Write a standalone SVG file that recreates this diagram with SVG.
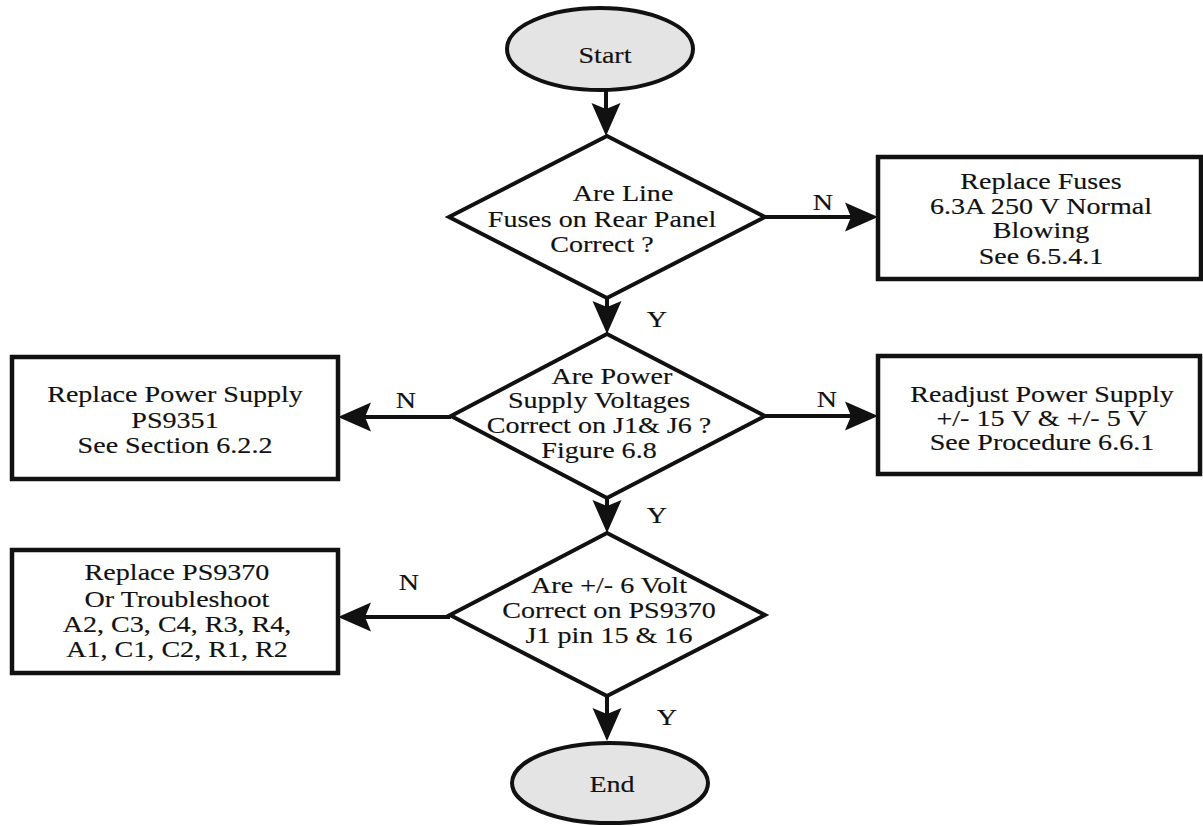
<svg xmlns="http://www.w3.org/2000/svg" width="1203" height="826" viewBox="0 0 1203 826">
  <style>
    .shape { fill: #ffffff; stroke: #111111; stroke-width: 4; }
    .term { fill: #e4e4e4; stroke: #111111; stroke-width: 4; }
    .box { fill: #ffffff; stroke: #111111; stroke-width: 4.5; }
    .wire { fill: none; stroke: #111111; stroke-width: 4; marker-end: url(#head); }
    text { font-family: "Liberation Serif", "Times New Roman", serif; font-size: 24px; fill: #111111; stroke: #111111; stroke-width: 0.15; text-anchor: middle; }
  </style>
  <defs>
    <!-- notched arrowhead; line stops 27px short of the tip -->
    <marker id="head" viewBox="-34 -16 35 32" refX="-27" refY="0" markerWidth="35" markerHeight="32" markerUnits="userSpaceOnUse" orient="auto">
      <path d="M0,0 L-33,-14.5 L-27,0 L-33,14.5 Z" fill="#111111"/>
    </marker>
  </defs>

  <rect width="1203" height="826" fill="#ffffff"/>

  <!-- connectors -->
  <g id="connectors">
    <path class="wire" d="M606,90 V109"/>
    <path class="wire" d="M607,298 V307"/>
    <path class="wire" d="M607,498 V506"/>
    <path class="wire" d="M607,696 V714"/>
    <path class="wire" d="M765,217 H851"/>
    <path class="wire" d="M765,416 H851"/>
    <path class="wire" d="M451,417 H365"/>
    <path class="wire" d="M450,617 H365"/>
    <g id="branch-labels">
      <g transform="translate(823,210) scale(1.17,1)"><text x="0" y="0">N</text></g>
      <g transform="translate(657,327) scale(1.17,1)"><text x="0" y="0">Y</text></g>
      <g transform="translate(406,408) scale(1.17,1)"><text x="0" y="0">N</text></g>
      <g transform="translate(827,407) scale(1.17,1)"><text x="0" y="0">N</text></g>
      <g transform="translate(657,523) scale(1.17,1)"><text x="0" y="0">Y</text></g>
      <g transform="translate(409,590) scale(1.17,1)"><text x="0" y="0">N</text></g>
      <g transform="translate(667,725) scale(1.17,1)"><text x="0" y="0">Y</text></g>
    </g>
  </g>

  <!-- start terminal -->
  <g id="start">
    <ellipse class="term" cx="600" cy="49" rx="93" ry="41"/>
    <g transform="translate(605,0) scale(1.17,1)"><text x="0" y="63">Start</text></g>
  </g>

  <!-- decision: line fuses -->
  <g id="check-fuses">
    <polygon class="shape" points="607,136 765,217 607,298 449,217"/>
    <g transform="translate(602,0) scale(1.17,1)">
      <text x="18" y="201">Are Line</text>
      <text x="0" y="227">Fuses on Rear Panel</text>
      <text x="0" y="252">Correct ?</text>
    </g>
  </g>

  <!-- action: replace fuses -->
  <g id="replace-fuses">
    <rect class="box" x="878" y="157" width="323" height="122"/>
    <g transform="translate(1041,0) scale(1.17,1)">
      <text x="0" y="189">Replace Fuses</text>
      <text x="0" y="214">6.3A 250 V Normal</text>
      <text x="0" y="238">Blowing</text>
      <text x="0" y="264">See 6.5.4.1</text>
    </g>
  </g>

  <!-- decision: supply voltages -->
  <g id="check-supply">
    <polygon class="shape" points="607,334 765,416 607,498 451,416"/>
    <g transform="translate(599,0) scale(1.17,1)">
      <text x="11" y="384">Are Power</text>
      <text x="0" y="408">Supply Voltages</text>
      <text x="0" y="433">Correct on J1&amp; J6 ?</text>
      <text x="0" y="458">Figure 6.8</text>
    </g>
  </g>

  <!-- action: replace power supply -->
  <g id="replace-supply">
    <rect class="box" x="12" y="357" width="326" height="122"/>
    <g transform="translate(175,0) scale(1.17,1)">
      <text x="0" y="402">Replace Power Supply</text>
      <text x="0" y="428">PS9351</text>
      <text x="0" y="453">See Section 6.2.2</text>
    </g>
  </g>

  <!-- action: readjust power supply -->
  <g id="readjust-supply">
    <rect class="box" x="878" y="356" width="322" height="118"/>
    <g transform="translate(1042,0) scale(1.17,1)">
      <text x="0" y="402">Readjust Power Supply</text>
      <text x="0" y="426">+/- 15 V &amp; +/- 5 V</text>
      <text x="0" y="450">See Procedure 6.6.1</text>
    </g>
  </g>

  <!-- decision: 6 volt rails -->
  <g id="check-rails">
    <polygon class="shape" points="607,533 765,615 607,696 450,615"/>
    <g transform="translate(609,0) scale(1.17,1)">
      <text x="0" y="593">Are +/- 6 Volt</text>
      <text x="0" y="618">Correct on PS9370</text>
      <text x="0" y="643">J1 pin 15 &amp; 16</text>
    </g>
  </g>

  <!-- action: replace / troubleshoot PS9370 -->
  <g id="troubleshoot">
    <rect class="box" x="12" y="550" width="326" height="123"/>
    <g transform="translate(177,0) scale(1.17,1)">
      <text x="0" y="580">Replace PS9370</text>
      <text x="0" y="607">Or Troubleshoot</text>
      <text x="0" y="632">A2, C3, C4, R3, R4,</text>
      <text x="0" y="657">A1, C1, C2, R1, R2</text>
    </g>
  </g>

  <!-- end terminal -->
  <g id="end">
    <ellipse class="term" cx="610" cy="783" rx="98" ry="40"/>
    <g transform="translate(612,0) scale(1.17,1)"><text x="0" y="792">End</text></g>
  </g>
</svg>
